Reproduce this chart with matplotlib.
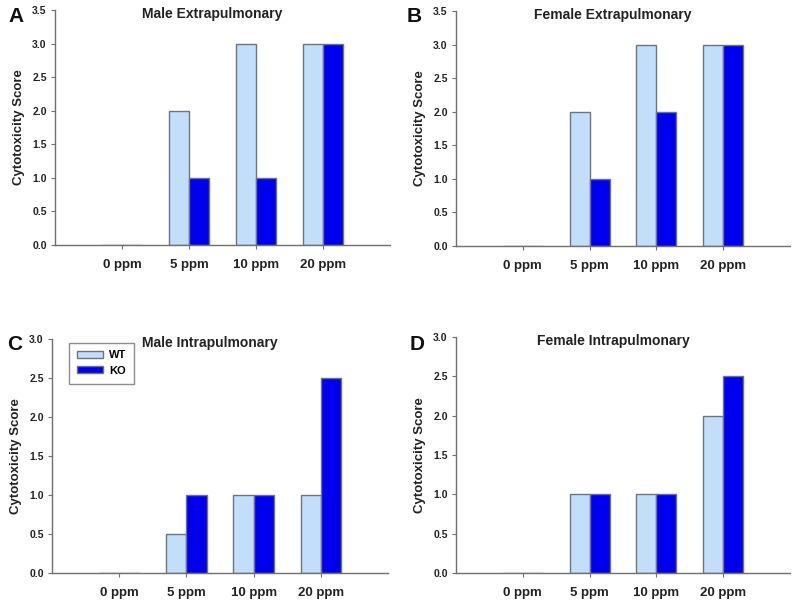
import numpy as np
import matplotlib.pyplot as plt
import matplotlib.patches as mpatches

plt.rcParams["font.family"] = ["Liberation Sans", "DejaVu Sans"]
plt.rcParams["font.weight"] = "bold"

doses = ["0 ppm", "5 ppm", "10 ppm", "20 ppm"]

male_extra_wt = [0, 2, 3, 3]
male_extra_ko = [0, 1, 1, 3]
female_extra_wt = [0, 2, 3, 3]
female_extra_ko = [0, 1, 2, 3]
male_intra_wt = [0, 0.5, 1, 1]
male_intra_ko = [0, 1, 1, 2.5]
female_intra_wt = [0, 1, 1, 2]
female_intra_ko = [0, 1, 1, 2.5]

WT_COLOR = "#c2defa"
KO_COLOR = "#0000ee"
EDGE = "#6c747c"
AXIS = "#707070"

W, H = 800, 602
fig = plt.figure(figsize=(8, 6.02), dpi=100)


def ax_rect(left, right, top, bottom):
    return [left / W, 1 - bottom / H, (right - left) / W, (bottom - top) / H]


panels = [
    # letter, title, wt, ko, ymax, rect(px), letter pos(px)
    ("A", "Male Extrapulmonary", male_extra_wt, male_extra_ko, 3.5,
     (55, 390, 10, 245), (16, 17)),
    ("B", "Female Extrapulmonary", female_extra_wt, female_extra_ko, 3.5,
     (456, 790, 11, 246), (414, 17)),
    ("C", "Male Intrapulmonary", male_intra_wt, male_intra_ko, 3.0,
     (52, 388, 339, 573), (15, 345)),
    ("D", "Female Intrapulmonary", female_intra_wt, female_intra_ko, 3.0,
     (456, 790, 337, 573), (417, 345)),
]

x = np.arange(len(doses))
width = 0.3

for letter, title, wt, ko, ymax, rect, lpos in panels:
    ax = fig.add_axes(ax_rect(*rect))
    ax.bar(x - width / 2, wt, width, color=WT_COLOR, edgecolor=EDGE, linewidth=1, label="WT")
    ax.bar(x + width / 2, ko, width, color=KO_COLOR, edgecolor=EDGE, linewidth=1, label="KO")
    ax.set_xlim(-1, 4)
    ax.set_ylim(0, ymax)
    yt = np.arange(0, ymax + 0.01, 0.5)
    ax.set_yticks(yt)
    ax.set_yticklabels([f"{v:.1f}" for v in yt], fontsize=7.5, color="#222222")
    ax.set_xticks(x)
    ax.set_xticklabels(doses, fontsize=9.5, color="#222222")
    ax.tick_params(axis="y", length=3, width=0.8, color=AXIS, pad=3)
    ax.tick_params(axis="x", length=3, width=0.8, color=AXIS, pad=7)
    ax.spines[["top", "right"]].set_visible(False)
    for s in ("left", "bottom"):
        ax.spines[s].set_color(AXIS)
        ax.spines[s].set_linewidth(1)
        ax.spines[s].set_zorder(5)
    ax.set_ylabel("Cytotoxicity Score", fontsize=9.5, fontweight="bold", color="#222222", labelpad=5)
    ax.text(0.47, 0.985, title, transform=ax.transAxes, ha="center", va="center",
            fontsize=10, fontweight="bold", color="#222222")
    fig.text(lpos[0] / W, 1 - lpos[1] / H, letter, ha="center", va="center",
             fontsize=15, fontweight="bold", color="#111111")

    if letter == "C":
        handles = [
            mpatches.Patch(facecolor=WT_COLOR, edgecolor=EDGE, label="WT"),
            mpatches.Patch(facecolor=KO_COLOR, edgecolor=EDGE, label="KO"),
        ]
        leg = ax.legend(handles=handles, loc="upper left", bbox_to_anchor=(0.05, 0.985),
                        fontsize=8, frameon=True, fancybox=False, borderaxespad=0,
                        handlelength=2.4, handleheight=0.6, labelspacing=0.5,
                        borderpad=0.7, handletextpad=0.5)
        leg.get_frame().set_edgecolor(AXIS)
        leg.get_frame().set_linewidth(1)

fig.savefig("out.png", dpi=100)
